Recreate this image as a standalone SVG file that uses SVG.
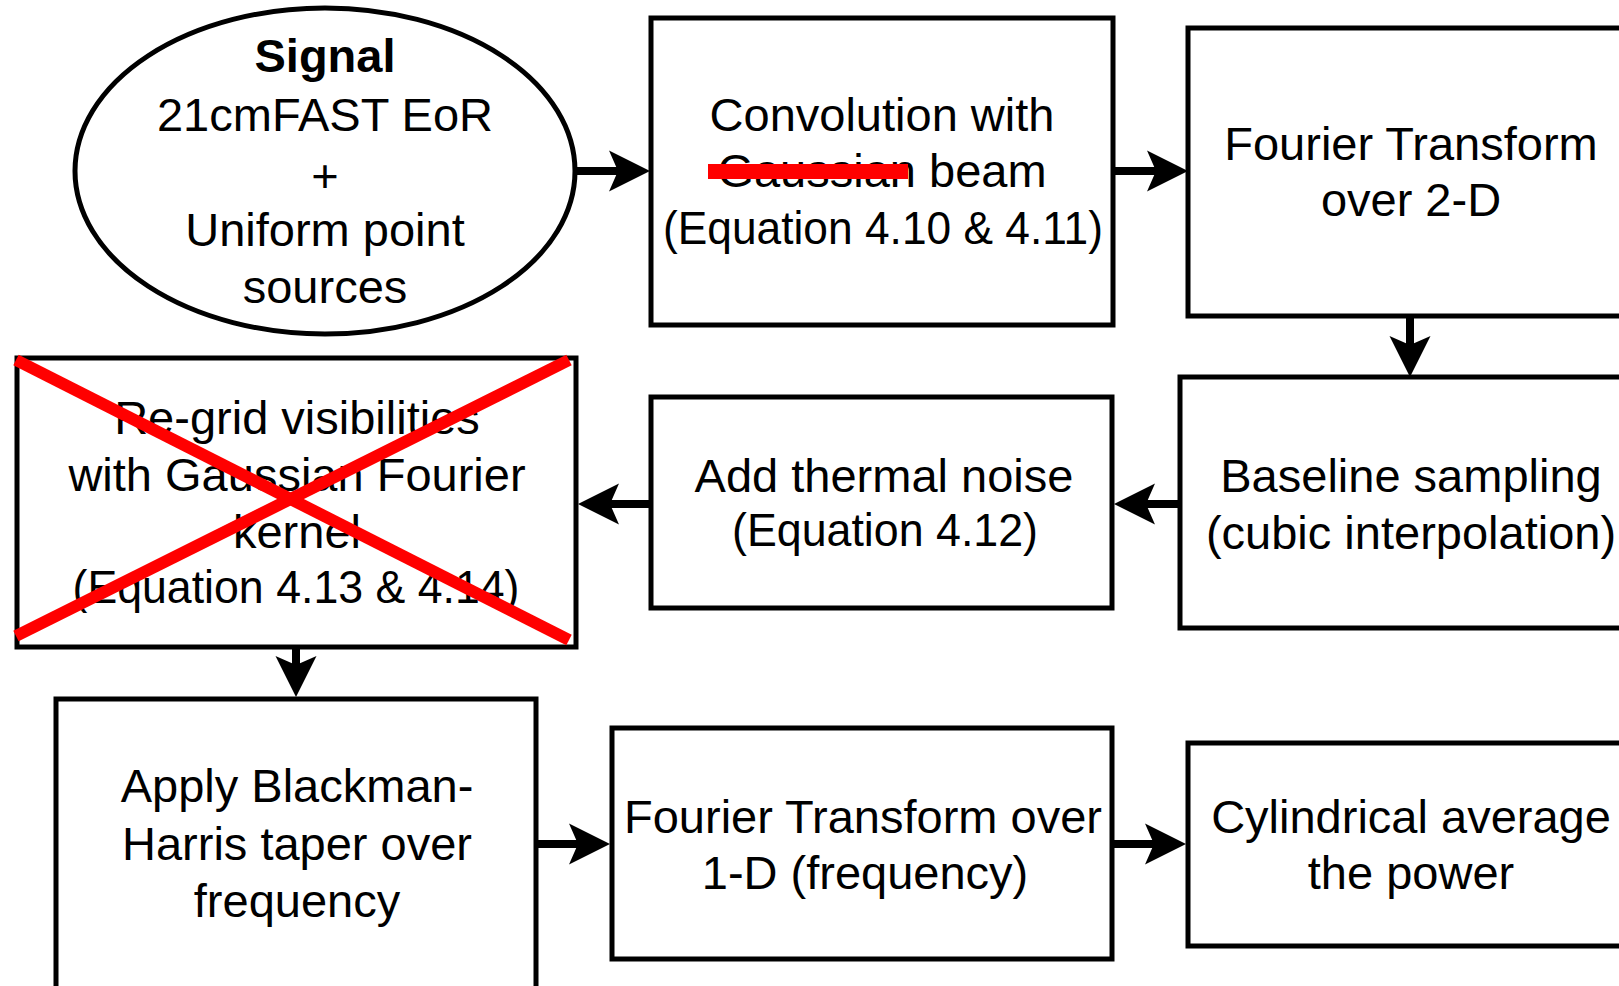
<svg xmlns="http://www.w3.org/2000/svg" width="1619" height="986" viewBox="0 0 1619 986">
<style>
.box{fill:#fff;stroke:#000;stroke-width:5}
.t{font-family:"Liberation Sans",Arial,Helvetica,sans-serif;font-size:47px;text-anchor:middle;fill:#000}
.b{font-weight:bold}
.ln{stroke:#000;stroke-width:8;fill:none}
.hd{fill:#000;stroke:none}
.x{stroke:#ff0000;stroke-width:12;fill:none}
</style>
<defs>
<path id="ah" d="M0,0 L-41,-20.5 L-32,0 L-41,20.5 Z"/>
</defs>
<rect width="1619" height="986" fill="#fff"/>
<g id="connectors">
<line class="ln" x1="575" y1="171" x2="620" y2="171"/>
<use href="#ah" class="hd" transform="translate(650,171)"/>
<line class="ln" x1="1113" y1="171" x2="1158" y2="171"/>
<use href="#ah" class="hd" transform="translate(1188,171)"/>
<line class="ln" x1="1410" y1="316" x2="1410" y2="347"/>
<use href="#ah" class="hd" transform="translate(1410,377) rotate(90)"/>
<line class="ln" x1="1180" y1="504" x2="1144" y2="504"/>
<use href="#ah" class="hd" transform="translate(1114,504) rotate(180)"/>
<line class="ln" x1="651" y1="504" x2="608" y2="504"/>
<use href="#ah" class="hd" transform="translate(578,504) rotate(180)"/>
<line class="ln" x1="296" y1="647" x2="296" y2="667"/>
<use href="#ah" class="hd" transform="translate(296,697) rotate(90)"/>
<line class="ln" x1="536" y1="844" x2="580" y2="844"/>
<use href="#ah" class="hd" transform="translate(610,844)"/>
<line class="ln" x1="1112" y1="844" x2="1156" y2="844"/>
<use href="#ah" class="hd" transform="translate(1186,844)"/>
</g>
<g id="signal">
<ellipse class="box" cx="325" cy="171" rx="250" ry="163"/>
<text class="t b" x="325" y="72">Signal</text>
<text class="t" x="325" y="131">21cmFAST EoR</text>
<text class="t" x="325" y="192">+</text>
<text class="t" x="325" y="246">Uniform point</text>
<text class="t" x="325" y="303">sources</text>
</g>
<g id="convolution">
<rect class="box" x="651" y="18" width="462" height="307"/>
<text class="t" x="882" y="131">Convolution with</text>
<text class="t" x="882" y="187">Gaussian beam</text>
<text class="t" x="883" y="244" textLength="440" lengthAdjust="spacingAndGlyphs">(Equation 4.10 &amp; 4.11)</text>
<rect x="708" y="164" width="200" height="15" fill="#ff0000"/>
</g>
<g id="ft2d">
<rect class="box" x="1188" y="28" width="446" height="288"/>
<text class="t" x="1411" y="160">Fourier Transform</text>
<text class="t" x="1411" y="216">over 2-D</text>
</g>
<g id="baseline">
<rect class="box" x="1180" y="377" width="462" height="251"/>
<text class="t" x="1411" y="492">Baseline sampling</text>
<text class="t" x="1411" y="549">(cubic interpolation)</text>
</g>
<g id="thermal">
<rect class="box" x="651" y="397" width="461" height="211"/>
<text class="t" x="884" y="492">Add thermal noise</text>
<text class="t" x="885" y="546" textLength="306" lengthAdjust="spacingAndGlyphs">(Equation 4.12)</text>
</g>
<g id="regrid">
<rect class="box" x="17" y="358" width="559" height="289"/>
<text class="t" x="297" y="434">Re-grid visibilities</text>
<text class="t" x="297" y="491">with Gaussian Fourier</text>
<text class="t" x="297" y="548">kernel</text>
<text class="t" x="296" y="603" textLength="447" lengthAdjust="spacingAndGlyphs">(Equation 4.13 &amp; 4.14)</text>
<line class="x" x1="16" y1="360" x2="569" y2="640"/>
<line class="x" x1="569" y1="360" x2="16" y2="636"/>
</g>
<g id="apply">
<rect class="box" x="56" y="699" width="480" height="300"/>
<text class="t" x="297" y="802">Apply Blackman-</text>
<text class="t" x="297" y="860">Harris taper over</text>
<text class="t" x="297" y="917">frequency</text>
</g>
<g id="ft1d">
<rect class="box" x="612" y="728" width="500" height="231"/>
<text class="t" x="863" y="833">Fourier Transform over</text>
<text class="t" x="865" y="889">1-D (frequency)</text>
</g>
<g id="cylindrical">
<rect class="box" x="1188" y="743" width="446" height="203"/>
<text class="t" x="1411" y="833">Cylindrical average</text>
<text class="t" x="1411" y="889">the power</text>
</g>
</svg>
